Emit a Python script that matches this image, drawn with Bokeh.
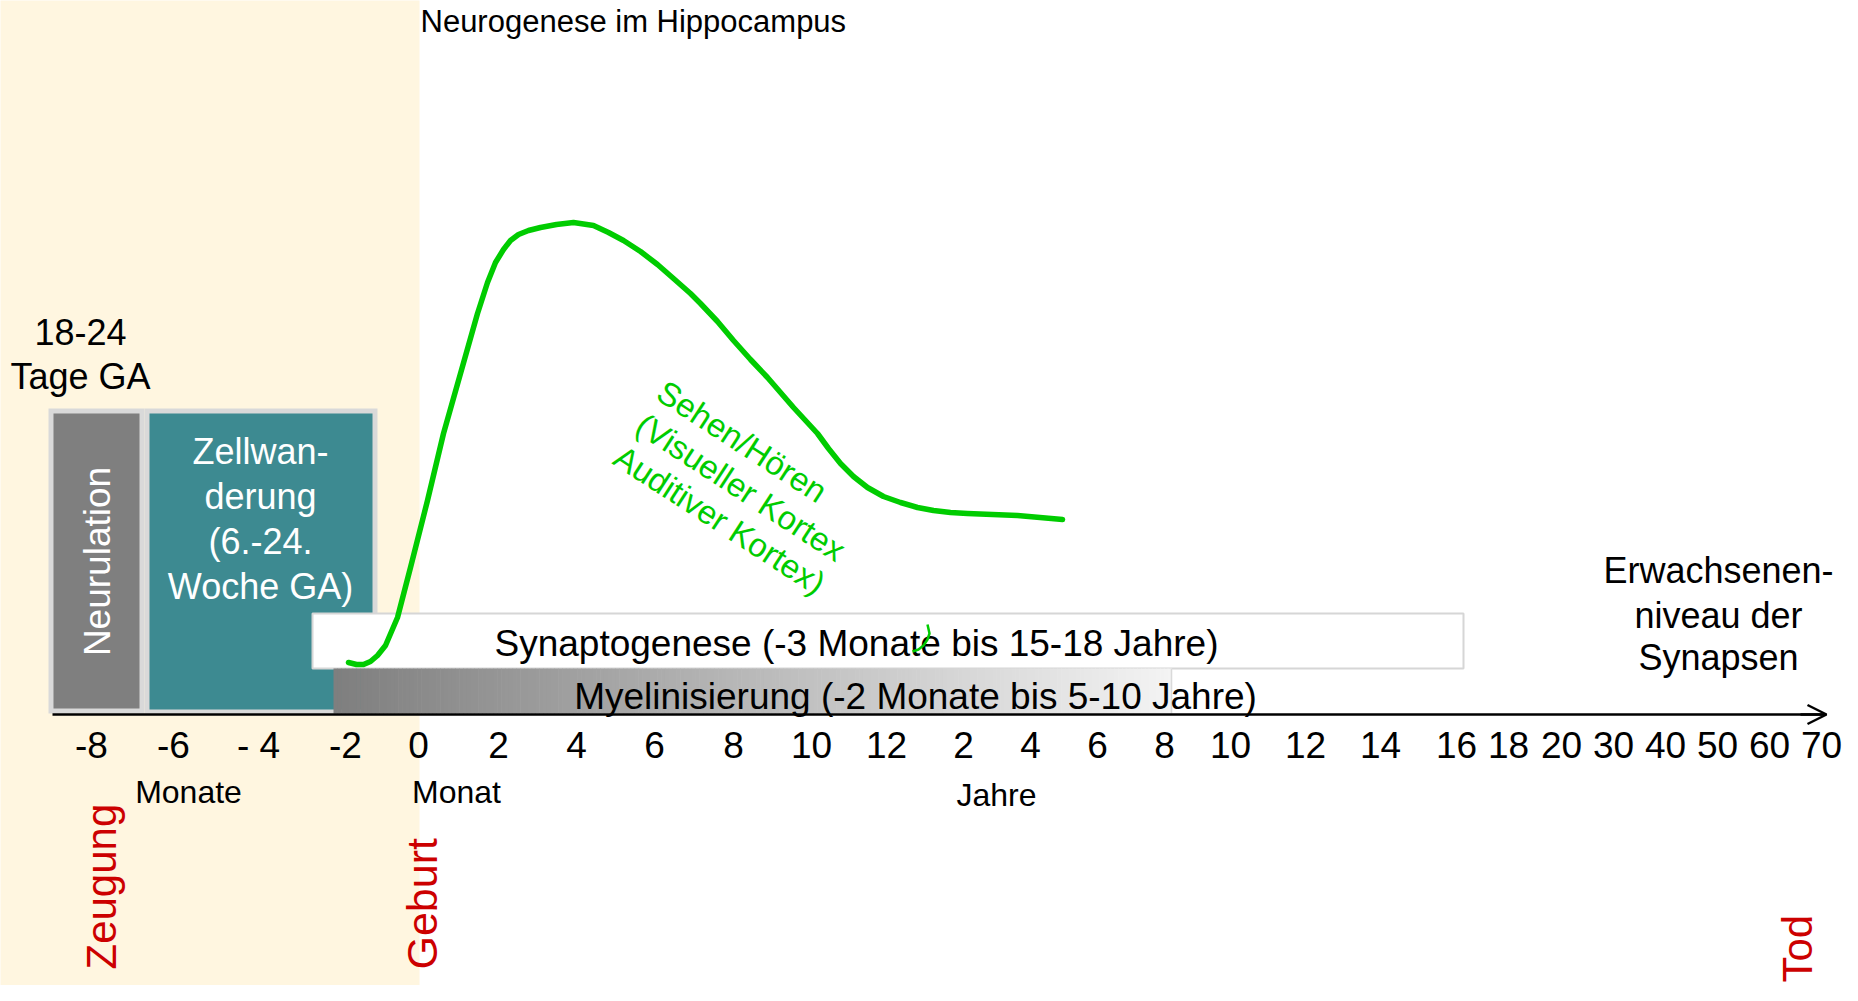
import numpy as np
from bokeh.plotting import figure
from bokeh.models import Range1d, LinearAxis, FixedTicker, Arrow, OpenHead
from bokeh.core.properties import value
from bokeh.embed import file_html
from bokeh.resources import INLINE

# ---------------- data ----------------
tick_labels = ["-8", "-6", "- 4", "-2", "0", "2", "4", "6", "8", "10", "12",
               "2", "4", "6", "8", "10", "12", "14", "16", "18", "20",
               "30", "40", "50", "60", "70"]
# timeline axis units (irregular schematic scale)
tick_pos = [91, 173, 258, 345, 418, 498, 576, 654, 733, 811, 886,
            963, 1030, 1097, 1164, 1230, 1305, 1380, 1456, 1508, 1561,
            1613, 1665, 1717, 1769, 1821]

# green curve (visual / auditory cortex synapse density), height above axis
curve_x = [348, 356, 363, 370, 377, 385, 397, 410, 427, 443, 460, 477, 487, 495,
           503, 510, 518, 528, 540, 556, 573, 593, 608, 623, 640, 657, 673,
           690, 700, 717, 733, 750, 767, 780, 793, 805, 817, 828, 840, 853,
           867, 883, 900, 917, 933, 950, 967, 1017, 1062]
curve_h = [52, 50, 50, 53, 59, 69, 97, 147, 214, 281, 341, 401, 432, 452,
           465, 474, 480, 484, 487, 490, 492, 489, 482, 474, 463, 450, 436,
           421, 411, 393, 374, 355, 337, 322, 307, 294, 281, 266, 251, 238,
           227, 218, 212, 207, 204, 202, 201, 199, 195]

# small green stroke
stroke_x = [912, 918, 923, 927, 929, 927]
stroke_h = [63, 65, 69, 75, 81, 90]

# phase boxes
phase_names = ["Neurulation", "Zellwanderung"]
phase_left = [53, 149]
phase_right = [139, 372]
phase_bottom = [6, 5]
phase_top = [301, 301]
phase_colors = ["#7F7F7F", "#3D8A91"]

syn_span = (312, 1463)
myel_span = (333, 1171)
prenatal_end = 419

FONT = "Liberation Sans"
GREEN = "#00CC00"
RED = "#CC0000"

# ---------------- figure ----------------
p = figure(width=1842, height=985, output_backend="svg", toolbar_location=None,
           x_range=Range1d(0, 1842), y_range=Range1d(-271, 714),
           x_axis_type=None, y_axis_type=None, min_border=0)
p.outline_line_color = None
p.background_fill_color = "white"
p.border_fill_color = "white"
p.xgrid.visible = False
p.ygrid.visible = False

# prenatal background
p.quad(left=[-10], right=[prenatal_end], bottom=[-400], top=[800],
       fill_color="#FFF6E0", line_color=None)

# box borders
p.quad(left=[48, 144], right=[144, 377], bottom=[1, 1], top=[306, 306],
       fill_color="#D9D9D9", line_color=None)
p.quad(left=phase_left, right=phase_right, bottom=phase_bottom, top=phase_top,
       fill_color=phase_colors, line_color=None)

# Synaptogenese box
p.quad(left=[syn_span[0]], right=[syn_span[1]], bottom=[46], top=[101],
       fill_color="white", line_color="#D6D6D6", line_width=2)

# Myelinisierung gradient bar
n = 220
xs = np.linspace(myel_span[0], myel_span[1], n + 1)
c0, c1 = np.array([127, 127, 127]), np.array([244, 244, 244])
cols = []
for i in range(n):
    t = i / (n - 1)
    c = (c0 + (c1 - c0) * t).astype(int)
    cols.append("#%02x%02x%02x" % tuple(c))
p.quad(left=xs[:-1], right=xs[1:] + 0.6, bottom=1, top=46,
       fill_color=cols, line_color=None)
p.segment(x0=[myel_span[1]], y0=[1], x1=[myel_span[1]], y1=[46],
          line_color="#DADADA", line_width=1.5)


def txt(x, y, t, size, color="black", align="center", baseline="middle", angle=0.0):
    p.text(x=x, y=y, text=t, text_font=value(FONT), text_font_size=value(size),
           text_color=color, text_align=align, text_baseline=baseline, angle=angle)


# texts (anchored at the middle of the capital letters)
txt([420], [693], ["Neurogenese im Hippocampus"], "31px", align="left")
txt([80, 80], [383, 338], ["18-24", "Tage GA"], "36px")
txt([97], [153], ["Neurulation"], "37px", color="white", angle=np.pi / 2)
txt([260] * 4, [263, 218, 173, 128], ["Zellwan-", "derung", "(6.-24.", "Woche GA)"],
    "36px", color="white")
txt([856], [71], ["Synaptogenese (-3 Monate bis 15-18 Jahre)"], "37px")
txt([915], [18], ["Myelinisierung (-2 Monate bis 5-10 Jahre)"], "37px")
txt([188, 456], [-77, -77], ["Monate", "Monat"], "32px")
txt([996], [-80], ["Jahre"], "32px")
txt([1718] * 3, [144, 99, 57], ["Erwachsenen-", "niveau der", "Synapsen"], "36px")
txt([101], [-255], ["Zeugung"], "42px", color=RED, align="left", angle=np.pi / 2)
txt([421], [-255], ["Geburt"], "43px", color=RED, align="left", angle=np.pi / 2)
txt([1797], [-268], ["Tod"], "42px", color=RED, align="left", angle=np.pi / 2)
txt([660, 639, 617], [326, 293, 261],
    ["Sehen/Hören", "(Visueller Kortex", "Auditiver Kortex)"], "33px",
    color=GREEN, align="left", angle=-0.576)

# curve
p.line(curve_x, curve_h, line_color=GREEN, line_width=5.5, line_cap="round", line_join="round")
p.line(stroke_x, stroke_h, line_color=GREEN, line_width=2.5)

# timeline axis
ax = LinearAxis(fixed_location=0, ticker=FixedTicker(ticks=tick_pos),
                major_label_overrides={t: l for t, l in zip(tick_pos, tick_labels)},
                bounds=(52, 1822))
ax.axis_line_color = "black"
ax.axis_line_width = 2.5
ax.major_tick_line_color = None
ax.minor_tick_line_color = None
ax.major_label_text_font = FONT
ax.major_label_text_font_size = "37px"
ax.major_label_text_color = "black"
ax.major_label_standoff = 4
p.add_layout(ax, "below")

p.add_layout(Arrow(end=OpenHead(size=19, line_width=2.5, line_color="black"),
                   x_start=1800, y_start=0, x_end=1826, y_end=0,
                   line_width=2.5, line_color="black"))

open("out.html", "w").write(file_html(p, INLINE))
